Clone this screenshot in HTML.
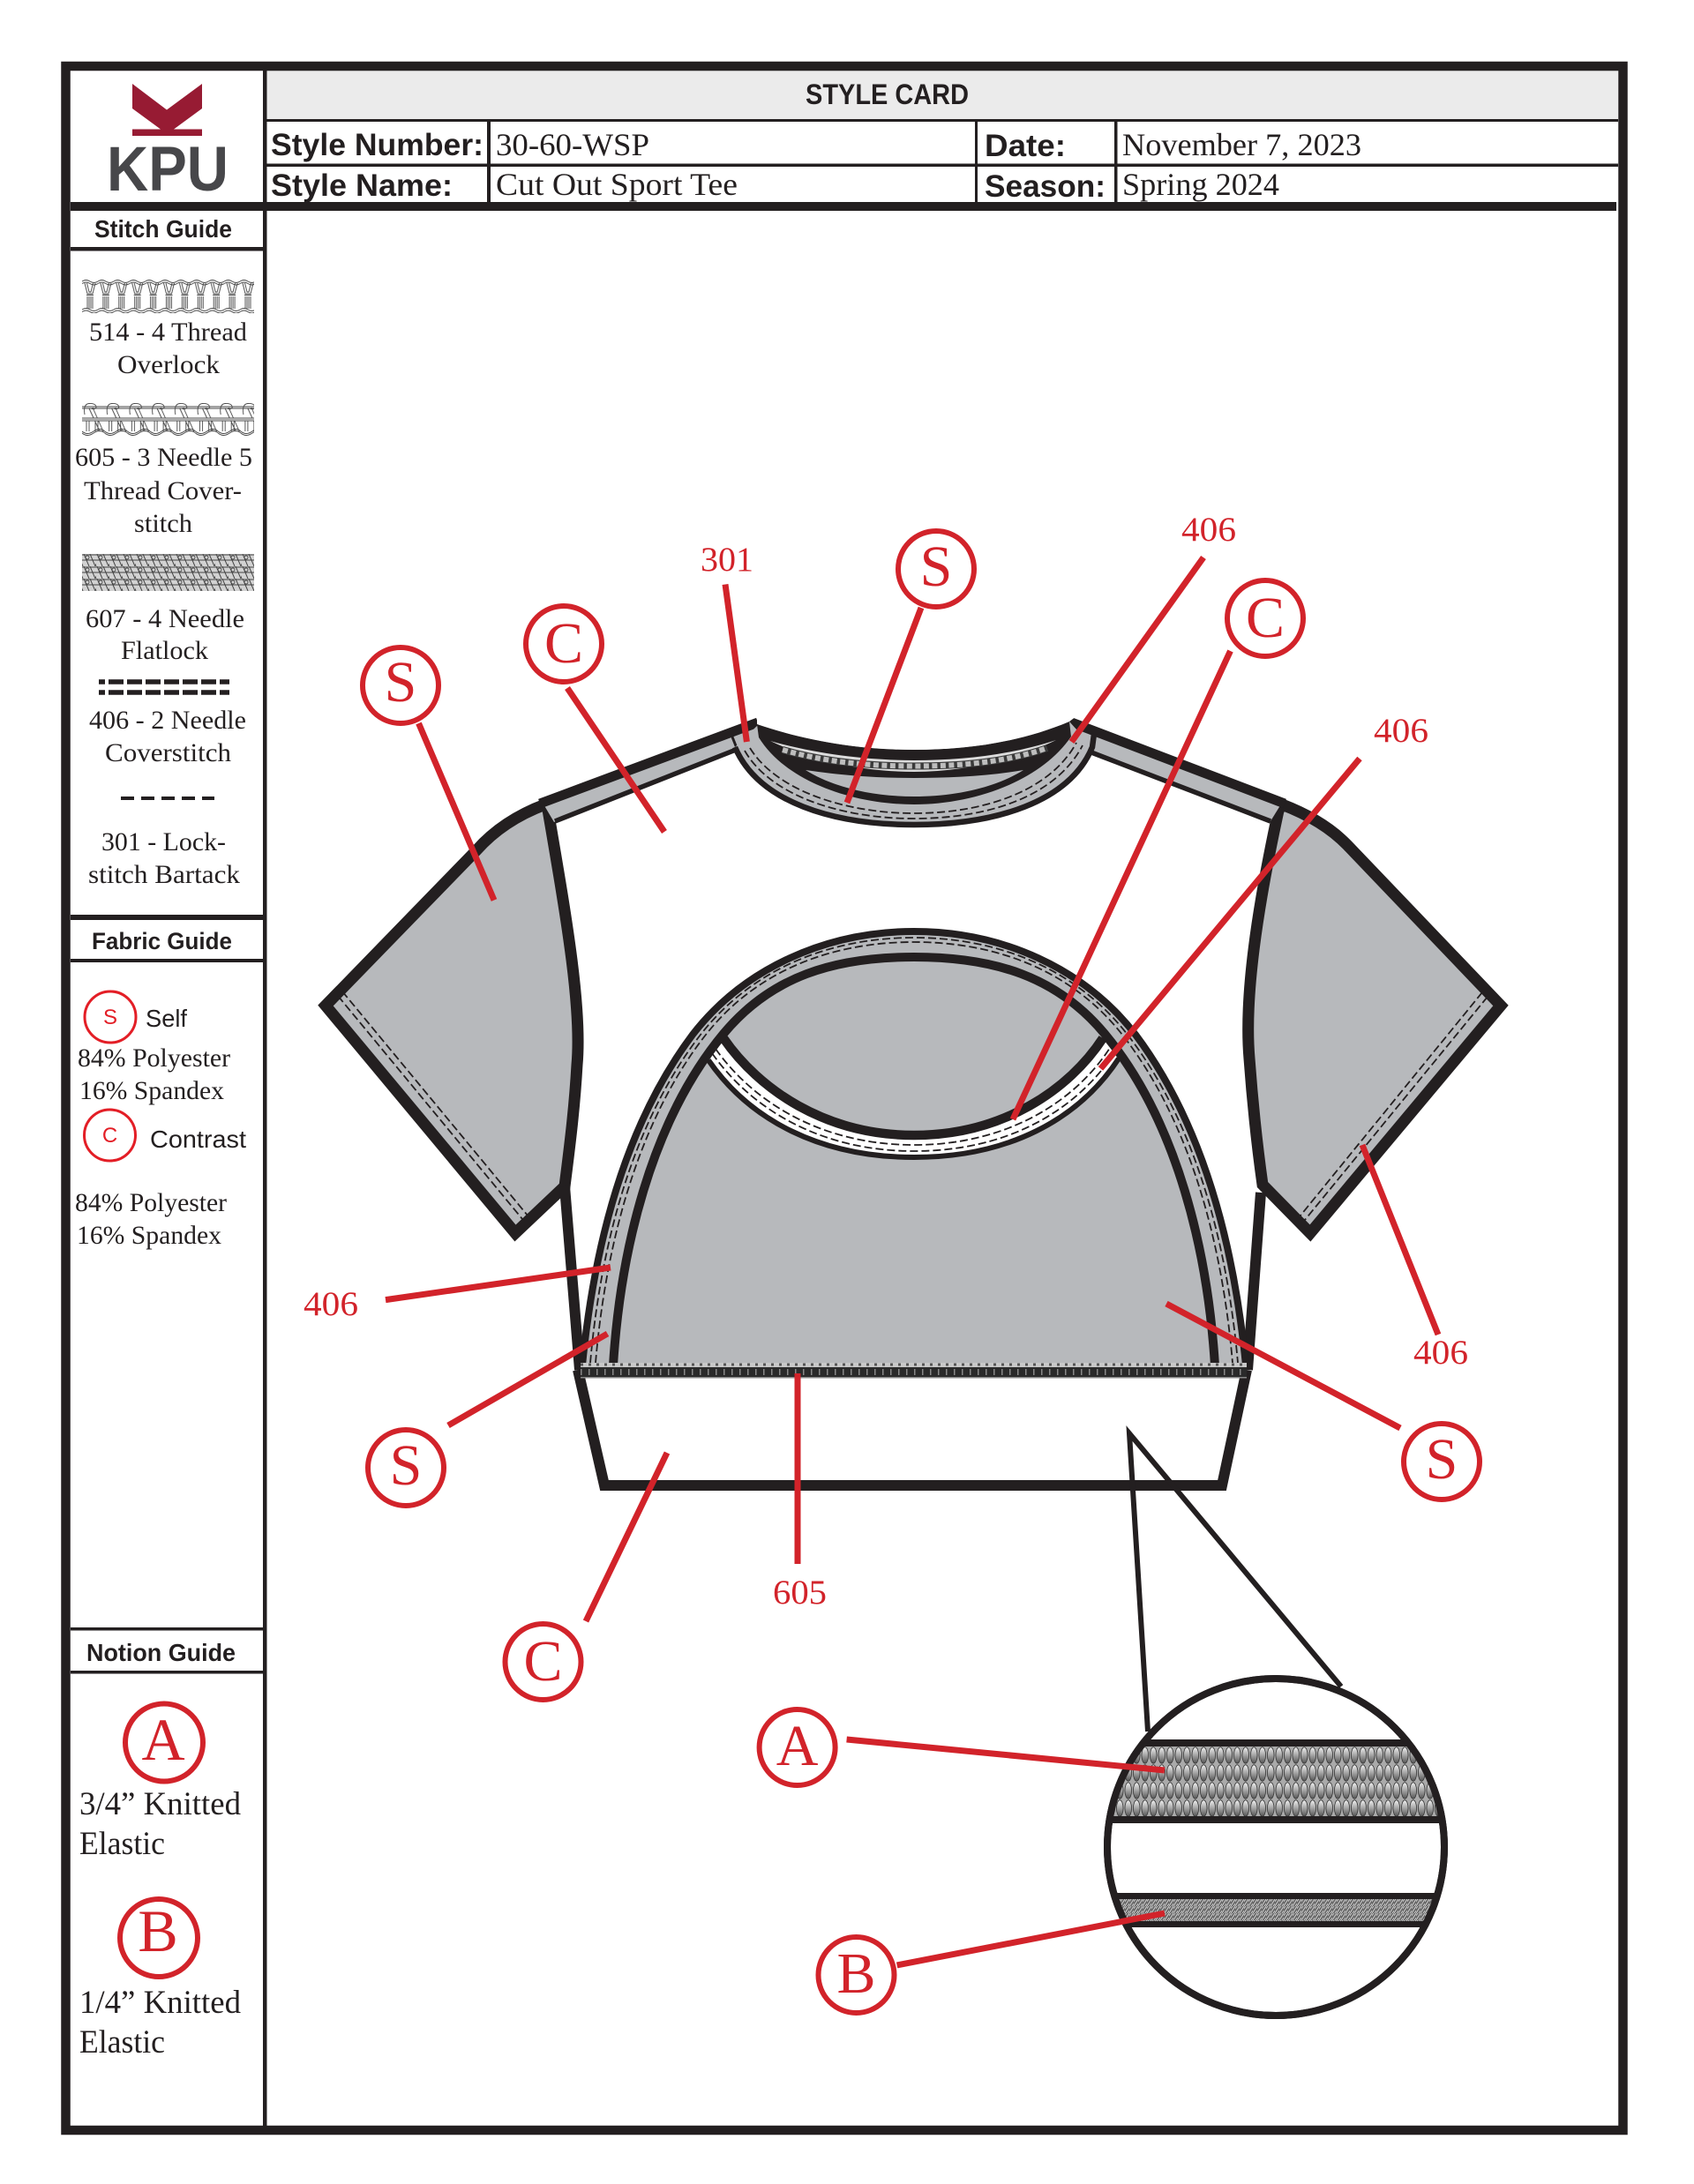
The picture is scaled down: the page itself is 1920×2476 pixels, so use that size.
<!DOCTYPE html>
<html><head><meta charset="utf-8"><style>html,body{margin:0;padding:0;background:#fff}svg{display:block}
.sf{font-family:"Liberation Serif",serif;fill:#231f20}
.sb{font-family:"Liberation Sans",sans-serif;font-weight:bold;fill:#231f20}
.ss{font-family:"Liberation Sans",sans-serif;fill:#231f20}
.r{font-family:"Liberation Serif",serif;fill:#d2232a}
.c{fill:#fff;stroke:#d2232a;stroke-width:6}
.l{stroke:#d2232a;stroke-width:7;fill:none}
.k{stroke:#231f20;fill:none}
.d{stroke:#231f20;fill:none;stroke-width:1.8;stroke-dasharray:9 4}
</style></head><body>
<svg xmlns="http://www.w3.org/2000/svg" width="1920" height="2476" viewBox="0 0 1920 2476">
<defs>
<pattern id="p514" x="93" y="316" width="17.900" height="39" patternUnits="userSpaceOnUse">
<path d="M0 3Q4.500 0 9 3T18 3M0 5.500Q4.500 2.500 9 5.500T18 5.500M3 5L6 17H12L15 5M5.500 5L8 15H10L12.500 5M6 20V34M8 20V34M10 20V34M12 20V34M5 18.500H13M0 35Q4.500 32 9 35T18 35M0 37.500Q4.500 34.500 9 37.500T18 37.500" fill="none" stroke="#444" stroke-width="0.900"/>
</pattern>
<pattern id="p605" x="93" y="456" width="25.700" height="38" patternUnits="userSpaceOnUse">
<path d="M3 14Q1 2 8 1.500Q16 1 16 6Q14 9 10 7M0 5H26M0 7H26M8 7L20 33M12 6L24 33M0 18H26M0 21H26M5 21V33M8 21V33M15 21V33M18 21V33M0 33Q6 38 13 33T26 33M0 35Q6 40 13 35T26 35" fill="none" stroke="#444" stroke-width="0.900"/>
<rect x="0" y="18" width="26" height="3" fill="#aaa"/>
</pattern>
<pattern id="p607" x="93" y="628" width="15" height="14" patternUnits="userSpaceOnUse">
<rect width="15" height="14" fill="#d2d2d2"/>
<path d="M0 1H15M0 7H15M2 0L8 14M9 0L15 14M-5 0L1 14" fill="none" stroke="#444" stroke-width="1"/>
<circle cx="6" cy="4" r="2" fill="none" stroke="#333" stroke-width="0.800"/>
</pattern>
<linearGradient id="tg" x1="0" y1="0" x2="0" y2="1"><stop offset="0" stop-color="#f2f2f2"/><stop offset="1" stop-color="#555"/></linearGradient>
<pattern id="pA" x="1255" y="1980" width="9.500" height="20" patternUnits="userSpaceOnUse">
<rect width="9.500" height="20" fill="#aaa"/>
<ellipse cx="4.750" cy="10" rx="3.800" ry="9.200" fill="url(#tg)" stroke="#333" stroke-width="0.800"/>
</pattern>
<pattern id="pB" x="1255" y="2153" width="5" height="8" patternUnits="userSpaceOnUse">
<rect width="5" height="8" fill="#666"/>
<path d="M0 8L5 0M-1 4L2 0M3 8L6 4" stroke="#ccc" stroke-width="1"/>
</pattern>
<clipPath id="cc"><circle cx="1446" cy="2094" r="191"/></clipPath>
</defs>
<rect width="1920" height="2476" fill="#fff"/>

<!-- frame and table -->
<rect x="302" y="80" width="1532" height="55" fill="#ebebeb"/>
<rect x="74.500" y="75" width="1765" height="2340" fill="none" stroke="#231f20" stroke-width="10.500"/>
<g fill="#231f20">
<rect x="298" y="80" width="4.500" height="2332"/>
<rect x="302" y="135" width="1532" height="3"/>
<rect x="302" y="185.500" width="1532" height="3.500"/>
<rect x="80" y="229" width="1752" height="10"/>
<rect x="552" y="138" width="4" height="92"/>
<rect x="1105" y="138" width="3" height="92"/>
<rect x="1263" y="138" width="3.500" height="92"/>
<rect x="80" y="280" width="220" height="4.500"/>
<rect x="80" y="1037" width="220" height="6"/>
<rect x="80" y="1087" width="220" height="4"/>
<rect x="80" y="1845" width="222" height="3.500"/>
<rect x="80" y="1894" width="220" height="3.500"/>
</g>

<!-- logo -->
<path d="M150 95L189 124.500L229 95V123L197 146.500H229V154H150V146.500H182L150 123Z" fill="#971b33"/>
<text x="121" y="216" font-size="71" class="sb" style="fill:#47474a" textLength="138" lengthAdjust="spacingAndGlyphs">KPU</text>

<!-- header text -->
<text x="913" y="118" font-size="32" class="sb" textLength="185" lengthAdjust="spacingAndGlyphs">STYLE CARD</text>
<g font-size="35.500" class="sb">
<text x="307" y="176" textLength="241" lengthAdjust="spacingAndGlyphs">Style Number:</text>
<text x="307" y="222" textLength="206" lengthAdjust="spacingAndGlyphs">Style Name:</text>
<text x="1116" y="177" textLength="92" lengthAdjust="spacingAndGlyphs">Date:</text>
<text x="1116" y="223" textLength="137" lengthAdjust="spacingAndGlyphs">Season:</text>
</g>
<g font-size="36" class="sf">
<text x="562" y="176" textLength="174" lengthAdjust="spacingAndGlyphs">30-60-WSP</text>
<text x="562" y="221" textLength="274" lengthAdjust="spacingAndGlyphs">Cut Out Sport Tee</text>
<text x="1272" y="176" textLength="271" lengthAdjust="spacingAndGlyphs">November 7, 2023</text>
<text x="1272" y="221" textLength="178" lengthAdjust="spacingAndGlyphs">Spring 2024</text>
</g>

<!-- sidebar: stitch guide -->
<text x="107" y="269" font-size="28" class="sb" textLength="156" lengthAdjust="spacingAndGlyphs">Stitch Guide</text>
<rect x="93" y="316" width="195" height="39" fill="url(#p514)"/>
<rect x="93" y="456" width="195" height="38" fill="url(#p605)"/>
<rect x="93" y="628" width="195" height="42" fill="url(#p607)"/>
<g font-size="30" class="sf">
<text x="101" y="386" textLength="179" lengthAdjust="spacingAndGlyphs">514 - 4 Thread</text>
<text x="133" y="423" textLength="116" lengthAdjust="spacingAndGlyphs">Overlock</text>
<text x="85" y="528" textLength="201" lengthAdjust="spacingAndGlyphs">605 - 3 Needle 5</text>
<text x="95" y="566" textLength="179" lengthAdjust="spacingAndGlyphs">Thread Cover-</text>
<text x="152" y="603" textLength="66" lengthAdjust="spacingAndGlyphs">stitch</text>
<text x="97" y="711" textLength="180" lengthAdjust="spacingAndGlyphs">607 - 4 Needle</text>
<text x="137" y="747" textLength="99" lengthAdjust="spacingAndGlyphs">Flatlock</text>
<text x="101" y="826" textLength="178" lengthAdjust="spacingAndGlyphs">406 - 2 Needle</text>
<text x="119" y="863" textLength="143" lengthAdjust="spacingAndGlyphs">Coverstitch</text>
<text x="115" y="964" textLength="141" lengthAdjust="spacingAndGlyphs">301 - Lock-</text>
<text x="100" y="1001" textLength="172" lengthAdjust="spacingAndGlyphs">stitch Bartack</text>
</g>
<path d="M112 773H260M112 785H260" stroke="#231f20" stroke-width="5.500" stroke-dasharray="17 4" stroke-dashoffset="10" fill="none"/>
<path d="M137 905H243" stroke="#231f20" stroke-width="4" stroke-dasharray="15 8" fill="none"/>

<!-- fabric guide -->
<text x="104" y="1076" font-size="27" class="sb" textLength="159" lengthAdjust="spacingAndGlyphs">Fabric Guide</text>
<circle cx="125" cy="1153" r="29" fill="#fff" stroke="#e31e26" stroke-width="3"/>
<text x="125" y="1161" text-anchor="middle" font-size="24" class="ss" style="fill:#e31e26">S</text>
<text x="165" y="1164" font-size="28" class="ss" textLength="47" lengthAdjust="spacingAndGlyphs">Self</text>
<circle cx="124.500" cy="1287" r="29" fill="#fff" stroke="#e31e26" stroke-width="3"/>
<text x="124.500" y="1295" text-anchor="middle" font-size="24" class="ss" style="fill:#e31e26">C</text>
<text x="170" y="1301" font-size="28" class="ss" textLength="109" lengthAdjust="spacingAndGlyphs">Contrast</text>
<g font-size="30" class="sf">
<text x="88" y="1209" textLength="173" lengthAdjust="spacingAndGlyphs">84% Polyester</text>
<text x="90" y="1246" textLength="164" lengthAdjust="spacingAndGlyphs">16% Spandex</text>
<text x="85" y="1373" textLength="172" lengthAdjust="spacingAndGlyphs">84% Polyester</text>
<text x="87" y="1410" textLength="164" lengthAdjust="spacingAndGlyphs">16% Spandex</text>
</g>

<!-- notion guide -->
<text x="98" y="1883" font-size="28" class="sb" textLength="169" lengthAdjust="spacingAndGlyphs">Notion Guide</text>
<circle cx="186" cy="1975.500" r="44" class="c"/>
<text x="185" y="1995" text-anchor="middle" font-size="68" class="r">A</text>
<circle cx="180" cy="2197" r="44" class="c"/>
<text x="179" y="2212" text-anchor="middle" font-size="68" class="r">B</text>
<g font-size="37" class="sf">
<text x="90" y="2057" textLength="183" lengthAdjust="spacingAndGlyphs">3/4” Knitted</text>
<text x="90" y="2102" textLength="97" lengthAdjust="spacingAndGlyphs">Elastic</text>
<text x="90" y="2282" textLength="183" lengthAdjust="spacingAndGlyphs">1/4” Knitted</text>
<text x="90" y="2327" textLength="97" lengthAdjust="spacingAndGlyphs">Elastic</text>
</g>

<!-- garment: sleeves -->
<path d="M618 912Q570 930 540 964L369 1140L584 1398L640 1345C645 1305 651 1260 654 1207C660 1140 640 1030 620 912Z" fill="#b7b9bc" stroke="#231f20" stroke-width="13" stroke-linejoin="miter"/>
<path d="M1453 912Q1500 930 1527 958L1701 1140L1485 1398L1431 1343C1425 1300 1420 1255 1416 1200C1410 1130 1425 1030 1449 919Z" fill="#b7b9bc" stroke="#231f20" stroke-width="13"/>
<path class="d" d="M388 1124L598 1378M383 1129L592 1382"/>
<path class="d" d="M1680 1125L1474 1378M1686 1130L1479 1383"/>

<!-- side seams -->
<path class="k" stroke-width="12" d="M640 1345L657 1553"/>
<path class="k" stroke-width="12" d="M1429 1352L1414 1553"/>
<path class="k" stroke-width="12" d="M655 1553L685 1684H1385L1413 1553"/>

<!-- shoulder strips -->
<path d="M615 910L859 819L870 838L834 850L628 932Z" fill="#b7b9bc"/>
<path d="M1212 818L1453 910L1440 931L1237 853L1200 835Z" fill="#b7b9bc"/>
<path class="k" stroke-width="11" d="M612 911L859 819"/>
<path class="k" stroke-width="5.500" d="M629 931L834 850"/>
<path class="k" stroke-width="11" d="M1212 818L1456 911"/>
<path class="k" stroke-width="5.500" d="M1237 853L1440 931"/>
<path class="k" stroke-width="3" d="M829 833L835 848M836 847L862 836"/>

<!-- collar -->
<path d="M833 847L859 822L1212 818L1238 847C1212 910 1127 935 1036 935C945 935 860 910 833 847Z" fill="#b7b9bc"/>
<path d="M858 821C920 842 980 850 1036 850C1095 850 1155 842 1212 818L1214 835C1180 885 1105 912 1036 912C965 912 890 885 860 836Z" fill="#231f20"/>
<path d="M858 812L1220 812L1212 818C1155 842 1095 850 1036 850C980 850 920 842 858 821Z" fill="#fff"/>
<path d="M873 840C925 855 985 862 1036 862C1090 862 1145 856 1197 839C1150 862 1090 875 1036 875C985 875 925 865 873 840Z" fill="#dcdcdc"/>
<path d="M887 850C935 864 985 868.500 1036 868.500C1090 868.500 1140 864 1187 848" fill="none" stroke="#3a3a3a" stroke-width="8"/>
<path d="M887 850C935 864 985 868.500 1036 868.500C1090 868.500 1140 864 1187 848" fill="none" stroke="#bdbdbd" stroke-width="6" stroke-dasharray="6 3.500"/>
<path d="M913 873C960 880 1000 882 1036 882C1075 882 1120 880 1160 873C1130 892 1085 903 1036 903C990 903 945 893 913 873Z" fill="#b7b9bc"/>
<path d="M833 847C860 910 945 935 1036 935C1127 935 1212 910 1238 847L1240 832" class="k" stroke-width="6.500"/>
<path class="d" stroke-width="2" d="M850 848C880 897 960 922 1036 922C1115 922 1190 897 1220 842"/>
<path class="d" stroke-width="2" d="M844 851C874 903 955 928 1036 928C1120 928 1197 903 1227 845"/>

<!-- front arch -->
<path d="M660 1545C673 1415 707 1277 785 1173C843 1098 936 1056 1036 1056C1136 1056 1229 1098 1287 1173C1365 1277 1399 1415 1412 1545Z" fill="#b7b9bc"/>
<path d="M803 1202C850 1270 930 1312 1036 1312C1142 1312 1222 1270 1268 1200L1249 1177C1212 1235 1137 1287 1036 1287C935 1287 860 1235 820 1177Z" fill="#fff"/>
<path d="M803 1202C850 1270 930 1312 1036 1312C1142 1312 1222 1270 1268 1200" class="k" stroke-width="6"/>
<path d="M820 1177C860 1235 935 1287 1036 1287C1137 1287 1212 1235 1250 1177" class="k" stroke-width="10.500"/>
<path class="d" d="M811 1189C855 1251 933 1298 1036 1298C1139 1298 1217 1251 1258 1188"/>
<path class="d" d="M807 1194C853 1259 932 1305 1036 1305C1140 1305 1218 1261 1263 1194"/>
<path class="k" stroke-width="8" d="M660 1548C673 1415 707 1277 785 1173C843 1098 936 1056 1036 1056C1136 1056 1229 1098 1287 1173C1365 1277 1399 1415 1412 1548"/>
<path class="k" stroke-width="10" d="M695 1548C703 1420 737 1272 820 1172C874 1107 945 1085 1036 1085C1127 1085 1198 1107 1252 1172C1335 1272 1369 1420 1377 1548"/>
<path class="d" d="M669 1545C680.500 1416 714.500 1276 794 1173C851 1100 938 1063 1036 1063C1134 1063 1221 1100 1278 1173C1357.500 1276 1391.500 1416 1403 1545"/>
<path class="d" d="M675 1545C686 1417 720 1275 800 1173C856 1102 940 1068 1036 1068C1132 1068 1216 1102 1272 1173C1352 1275 1386 1417 1397 1545"/>

<!-- hem stitch -->
<rect x="658" y="1545" width="755" height="5" fill="#c8c8c8"/>
<path d="M658 1547H1413" stroke="#555" stroke-width="3" stroke-dasharray="3 6" fill="none"/>
<rect x="658" y="1550" width="755" height="11" fill="#2a2a2a"/>
<path d="M658 1555.500H1413" stroke="#888" stroke-width="7" stroke-dasharray="1.500 7.500" fill="none"/>
<rect x="658" y="1561" width="755" height="1.500" fill="#888"/>

<!-- inset -->
<path class="k" stroke-width="6" d="M1301 1963L1280 1625L1520 1912"/>
<circle cx="1446" cy="2094" r="191" fill="#fff" stroke="#231f20" stroke-width="8"/>
<g clip-path="url(#cc)">
<rect x="1240" y="1980" width="420" height="79" fill="url(#pA)"/>
<rect x="1240" y="1972" width="420" height="8" fill="#231f20"/>
<rect x="1240" y="2059" width="420" height="8" fill="#231f20"/>
<rect x="1240" y="2153" width="420" height="25" fill="url(#pB)"/>
<rect x="1240" y="2146" width="420" height="7" fill="#231f20"/>
<rect x="1240" y="2178" width="420" height="7" fill="#231f20"/>
</g>
<circle cx="1446" cy="2094" r="191" fill="none" stroke="#231f20" stroke-width="8"/>

<!-- red leaders -->
<g class="l">
<path d="M474.500 820L560 1020.500"/>
<path d="M643 780L753 943"/>
<path d="M822 662.500L846.400 841"/>
<path d="M1044 689L960 910"/>
<path d="M1364 632L1214.500 841"/>
<path d="M1394.500 738L1148 1269"/>
<path d="M1541 860L1247.500 1211.500"/>
<path d="M1544 1298L1630 1513"/>
<path d="M437 1473.600L692 1437"/>
<path d="M508 1616L688.500 1512"/>
<path d="M664 1838L756 1647"/>
<path d="M904 1557L904 1773"/>
<path d="M1587 1619L1322 1478"/>
<path d="M959.600 1972L1320 2007"/>
<path d="M1016.600 2228L1320 2169"/>
</g>

<!-- red circles -->
<circle cx="454" cy="777" r="43" class="c"/><text x="454" y="795" text-anchor="middle" font-size="66" class="r">S</text>
<circle cx="639" cy="730" r="43" class="c"/><text x="639" y="751" text-anchor="middle" font-size="66" class="r">C</text>
<circle cx="1061" cy="645" r="43" class="c"/><text x="1061" y="664" text-anchor="middle" font-size="66" class="r">S</text>
<circle cx="1434" cy="701" r="43" class="c"/><text x="1434" y="722" text-anchor="middle" font-size="66" class="r">C</text>
<circle cx="460" cy="1664" r="43" class="c"/><text x="460" y="1683" text-anchor="middle" font-size="66" class="r">S</text>
<circle cx="615.500" cy="1884" r="43" class="c"/><text x="615.500" y="1905" text-anchor="middle" font-size="66" class="r">C</text>
<circle cx="1634" cy="1657" r="43" class="c"/><text x="1634" y="1676" text-anchor="middle" font-size="66" class="r">S</text>
<circle cx="903.600" cy="1981" r="43" class="c"/><text x="903.600" y="2001" text-anchor="middle" font-size="66" class="r">A</text>
<circle cx="970.500" cy="2239" r="43" class="c"/><text x="970.500" y="2259" text-anchor="middle" font-size="66" class="r">B</text>

<!-- red numbers -->
<g font-size="39" class="r">
<text x="794" y="647" textLength="60" lengthAdjust="spacingAndGlyphs">301</text>
<text x="1339" y="613" textLength="62" lengthAdjust="spacingAndGlyphs">406</text>
<text x="1557" y="841" textLength="62" lengthAdjust="spacingAndGlyphs">406</text>
<text x="1602" y="1546" textLength="62" lengthAdjust="spacingAndGlyphs">406</text>
<text x="344" y="1491" textLength="62" lengthAdjust="spacingAndGlyphs">406</text>
<text x="876" y="1818" textLength="61" lengthAdjust="spacingAndGlyphs">605</text>
</g>
</svg>
</body></html>
